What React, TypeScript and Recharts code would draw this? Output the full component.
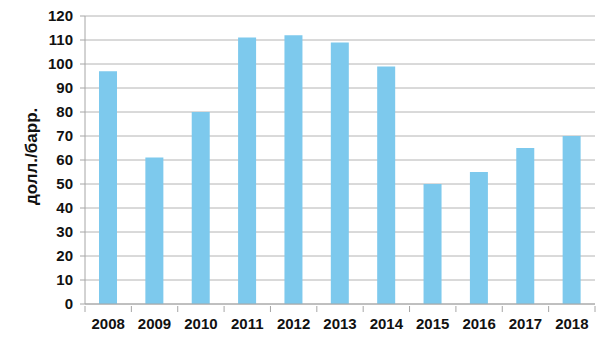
import { BarChart, Bar, XAxis, YAxis, CartesianGrid } from "recharts"

const years = ["2008", "2009", "2010", "2011", "2012", "2013", "2014", "2015", "2016", "2017", "2018"]
const prices = [97, 61, 80, 111, 112, 109, 99, 50, 55, 65, 70]
const yTicks = [0, 10, 20, 30, 40, 50, 60, 70, 80, 90, 100, 110, 120]

const data = years.map((y, i) => ({ year: y, price: prices[i] }))

const W = 600
const H = 339
const M = { top: 16, right: 5, bottom: 0, left: 0 }
const Y_W = 85
const band = (W - M.left - M.right - Y_W) / years.length
const FONT = "Liberation Sans, Arial, sans-serif"

const XTick = (props: any) => {
  const { x, y, payload, index } = props
  return (
    <g>
      <line x1={x - band / 2} y1={y} x2={x - band / 2} y2={y + 6} stroke="#a6a6a6" />
      {index === years.length - 1 && (
        <line x1={x + band / 2} y1={y} x2={x + band / 2} y2={y + 6} stroke="#a6a6a6" />
      )}
      <text x={x} y={y + 23} textAnchor="middle" fontSize={15} fontWeight="bold" fill="#111" fontFamily={FONT}>
        {payload.value}
      </text>
    </g>
  )
}

export default function App() {
  return (
    <div style={{ position: "absolute", left: 0, top: 0, background: "#fff" }}>
      <BarChart width={W} height={H} data={data} margin={M} barCategoryGap={0}>
        <CartesianGrid vertical={false} stroke="#b4b4b4" />
        <XAxis
          dataKey="year"
          height={35}
          axisLine={{ stroke: "#a6a6a6" }}
          tickLine={false}
          tickSize={0}
          tick={<XTick />}
          interval={0}
        />
        <YAxis
          width={Y_W}
          domain={[0, 120]}
          ticks={yTicks}
          interval={0}
          axisLine={{ stroke: "#a6a6a6" }}
          tickLine={{ stroke: "#a6a6a6" }}
          tickSize={5}
          tickMargin={7}
          tick={{ fontSize: 15, fontWeight: "bold", fill: "#111", fontFamily: FONT }}
          label={{
            value: "долл./барр.",
            angle: -90,
            position: "insideLeft",
            offset: 31,
            dy: 45,
            style: { fontSize: 17, fontWeight: "bold", fill: "#111", fontFamily: FONT },
          }}
        />
        <Bar dataKey="price" fill="#7dc9ed" barSize={18} isAnimationActive={false} />
      </BarChart>
    </div>
  )
}
